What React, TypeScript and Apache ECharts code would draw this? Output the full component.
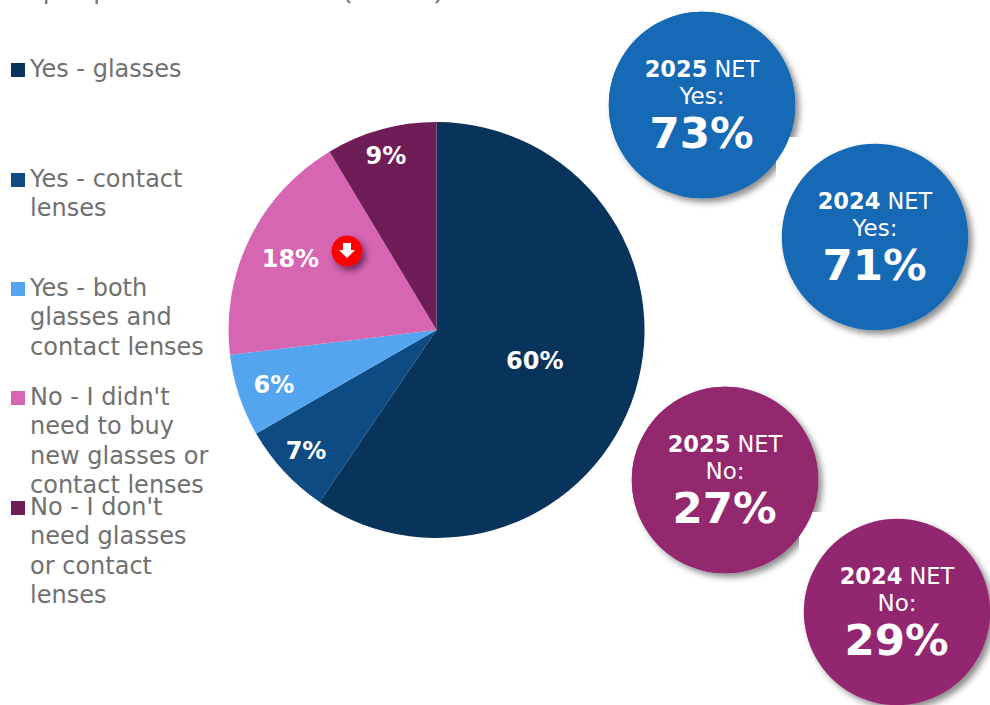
import React, { useEffect, useRef } from "react";
import * as echarts from "echarts";

const FONT = "'DejaVu Sans', Verdana, sans-serif";

const categories = [
  "Yes - glasses",
  "Yes - contact lenses",
  "Yes - both glasses and contact lenses",
  "No - I didn't need to buy new glasses or contact lenses",
  "No - I don't need glasses or contact lenses",
];
const legendLines = [
  ["Yes - glasses"],
  ["Yes - contact", "lenses"],
  ["Yes - both", "glasses and", "contact lenses"],
  ["No - I didn't", "need to buy", "new glasses or", "contact lenses"],
  ["No - I don't", "need glasses", "or contact", "lenses"],
];
const values = [59.5, 7.2, 6.4, 18.3, 8.6];
const colors = ["#08335A", "#0E4B83", "#53A5EF", "#D665B2", "#6E1D56"];
const legendY = [69, 179, 288, 397, 507];
// label nudges outward from the default mid-radius position
const labelOffsets = [
  [-4, 0],
  [-52, 48],
  [-61, 21],
  [-50, -24],
  [-22, -71],
];

const netYears = ["2025", "2024", "2025", "2024"];
const netKinds = ["Yes:", "Yes:", "No:", "No:"];
const netValues = ["73%", "71%", "27%", "29%"];
const netColors = ["#1569B5", "#1569B5", "#93286F", "#93286F"];
const netCenters = [
  [702, 105],
  [875, 237],
  [725, 480],
  [897, 612],
];
const R = 93.2;
const SHADOW = {
  shadowBlur: 6,
  shadowOffsetX: 4,
  shadowOffsetY: 4,
  shadowColor: "rgba(0,0,0,0.45)",
};

function buildGraphics() {
  const g: any[] = [];
  // clipped heading remnants at the very top of the picture
  [46, 96.5].forEach((x) =>
    g.push({ type: "rect", shape: { x: x - 1, y: 0, width: 2.4, height: 4 }, style: { fill: "#7a7a7a" } })
  );
  g.push({ type: "polyline", shape: { points: [[347, 0], [350, 3]] }, style: { stroke: "#7a7a7a", lineWidth: 2, fill: "none" } });
  g.push({ type: "polyline", shape: { points: [[436, 3], [439, 0]] }, style: { stroke: "#7a7a7a", lineWidth: 2, fill: "none" } });

  legendLines.forEach((lines, i) => {
    g.push({
      type: "rect",
      shape: { x: 11, y: legendY[i] - 6, width: 14, height: 14 },
      style: { fill: colors[i] },
    });
    g.push({
      type: "text",
      x: 30,
      y: legendY[i] - 14.5,
      style: {
        text: lines.join("\n"),
        font: `24px ${FONT}`,
        lineHeight: 29.3,
        fill: "#707070",
        verticalAlign: "top",
        textVerticalAlign: "top",
      },
    });
  });

  // red down-arrow badge
  g.push({
    type: "circle",
    shape: { cx: 347, cy: 251, r: 15.5 },
    style: { fill: "#FF0000", shadowBlur: 6, shadowOffsetX: 3, shadowOffsetY: 4, shadowColor: "rgba(40,0,40,0.6)" },
  });
  g.push({
    type: "polygon",
    shape: { points: [[343, 243], [351, 243], [351, 250], [355, 250], [347, 258], [339, 250], [343, 250]] },
    style: { fill: "#FFFFFF" },
  });

  netCenters.forEach(([cx, cy], i) => {
    g.push({ type: "circle", shape: { cx, cy, r: R }, style: { fill: netColors[i], ...SHADOW } });
    if (i % 2 === 0) {
      // the next badge's white box hides this badge's shadow
      g.push({ type: "rect", shape: { x: cx + 74, y: cy + 32, width: 90, height: 90 }, style: { fill: "#FFFFFF" } });
      g.push({ type: "circle", shape: { cx, cy, r: R }, style: { fill: netColors[i] } });
    }
    g.push({
      type: "text",
      x: cx,
      y: cy - 36,
      style: {
        rich: {
          b: { font: `bold 22.5px ${FONT}`, fill: "#FFFFFF" },
          r: { font: `22.5px ${FONT}`, fill: "#FFFFFF" },
        },
        text: `{b|${netYears[i]}}{r| NET}`,
        align: "center",
        verticalAlign: "middle",
      },
    });
    g.push({
      type: "text",
      x: cx,
      y: cy - 9,
      style: { text: netKinds[i], font: `23px ${FONT}`, fill: "#FFFFFF", align: "center", verticalAlign: "middle" },
    });
    g.push({
      type: "text",
      x: cx - 0.5,
      y: cy + 28,
      style: { text: netValues[i], font: `bold 43.5px ${FONT}`, fill: "#FFFFFF", align: "center", verticalAlign: "middle" },
    });
  });
  return g.map((el) => ({ ...el, z: 10 }));
}

export default function App() {
  const ref = useRef<HTMLDivElement>(null);
  useEffect(() => {
    document.body.style.margin = "0";
    const chart = echarts.init(ref.current!, null, { renderer: "svg" });
    chart.setOption({
      animation: false,
      backgroundColor: "#FFFFFF",
      color: colors,
      series: [
        {
          type: "pie",
          center: [436.5, 330],
          radius: [0, 208],
          startAngle: 90,
          clockwise: true,
          silent: true,
          data: categories.map((name, i) => ({ name, value: values[i] })),
          label: {
            show: true,
            position: "inside",
            formatter: (p: any) => `${Math.round(p.value)}%`,
            color: "#FFFFFF",
            fontFamily: FONT,
            fontWeight: "bold",
            fontSize: 24,
          },
          labelLine: { show: false },
          labelLayout: (p: any) => ({ dx: labelOffsets[p.dataIndex][0], dy: labelOffsets[p.dataIndex][1] }),
        },
      ],
      graphic: { elements: buildGraphics() },
    });
    return () => chart.dispose();
  }, []);
  return <div ref={ref} style={{ width: 990, height: 705 }} />;
}
